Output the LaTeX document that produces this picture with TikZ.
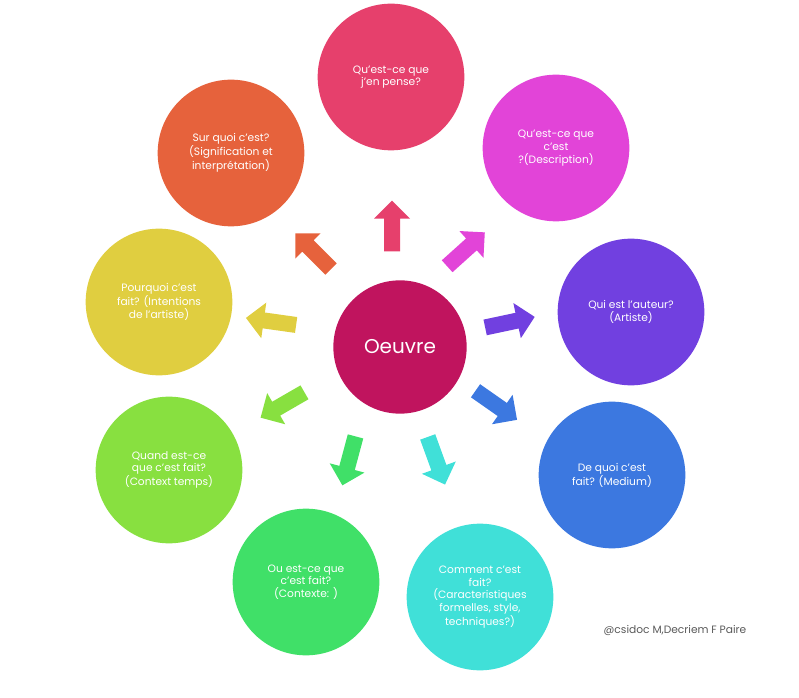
\documentclass[tikz,border=0pt]{standalone}
\usepackage{fontspec}
\setmainfont{Poppins}
\usetikzlibrary{shapes.arrows}
\definecolor{cRed}{HTML}{E6406C}
\definecolor{cMag}{HTML}{E244D8}
\definecolor{cPur}{HTML}{7140E0}
\definecolor{cBlu}{HTML}{3C78E0}
\definecolor{cCya}{HTML}{40E0D8}
\definecolor{cGrn}{HTML}{40E068}
\definecolor{cLgr}{HTML}{88E040}
\definecolor{cYel}{HTML}{E0CE40}
\definecolor{cOra}{HTML}{E6623C}
\definecolor{cMid}{HTML}{C0145E}
\tikzset{
	topic/.style={shape=circle,fill=#1,minimum size=110pt,text=white,align=center,font=\fontsize{8}{9.5}\selectfont,inner sep=1pt},
	blockarrow/.style={shape=single arrow,fill=#1,minimum height=38pt,minimum width=27pt,single arrow head extend=4pt,inner sep=3pt}
}
\begin{document}
\begin{tikzpicture}[x=0.75pt,y=-0.75pt]
	\useasboundingbox (0,0) rectangle (799,698);
	\node[topic=cMid,minimum size=100pt,font=\fontsize{15}{18}\selectfont] (oeuvre) at (400,347) {Oeuvre};

	\node[topic=cRed] (pense)   at (391,77)  {Qu'est-ce que\\j'en pense?};
	\node[topic=cMag] (descr)   at (556,148) {Qu'est-ce que\\c'est\\?(Description)};
	\node[topic=cPur] (auteur)  at (631,312) {Qui est l'auteur?\\(Artiste)};
	\node[topic=cBlu] (medium)  at (612,475) {De quoi c'est\\fait? (Medium)};
	\node[topic=cCya] (comment) at (480,597) {Comment c'est\\fait?\\(Caracteristiques\\formelles, style,\\techniques?)};
	\node[topic=cGrn] (ou)      at (306,582) {Ou est-ce que\\c'est fait?\\(Contexte: )};
	\node[topic=cLgr] (quand)   at (169,470) {Quand est-ce\\que c'est fait?\\(Context temps)};
	\node[topic=cYel] (pourquoi) at (159,302) {Pourquoi c'est\\fait? (Intentions\\de l'artiste)};
	\node[topic=cOra] (sens)    at (231,153) {Sur quoi c'est?\\(Signification et\\interprétation)};

	\node[blockarrow=cRed,rotate=90]   (a1) at (392,230) {};
	\node[blockarrow=cMag,rotate=42]   (a2) at (463,252) {};
	\node[blockarrow=cPur,rotate=12]   (a3) at (506,323) {};
	\node[blockarrow=cBlu,rotate=-35]  (a4) at (493,403) {};
	\node[blockarrow=cCya,rotate=-70]  (a5) at (435,457) {};
	\node[blockarrow=cGrn,rotate=-105] (a6) at (350,457) {};
	\node[blockarrow=cLgr,rotate=-150] (a7) at (286,403) {};
	\node[blockarrow=cYel,rotate=172]  (a8) at (275,322) {};
	\node[blockarrow=cOra,rotate=135]  (a9) at (316,254) {};

	\node[text=black!65,font=\fontsize{8}{10}\selectfont] (credit) at (675,630) {@csidoc M,Decriem F Paire};
\end{tikzpicture}
\end{document}
